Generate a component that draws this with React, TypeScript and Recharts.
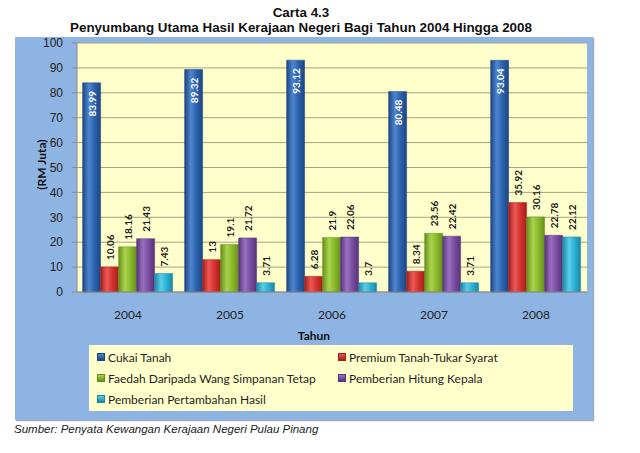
import React from 'react';
import {
  BarChart,
  Bar,
  XAxis,
  YAxis,
  CartesianGrid,
  LabelList,
} from 'recharts';

// Tahun (categories)
const years = ['2004', '2005', '2006', '2007', '2008'];

// RM Juta
const cukaiTanah = [83.99, 89.32, 93.12, 80.48, 93.04];
const premiumTanah = [10.06, 13, 6.28, 8.34, 35.92];
const faedahSimpanan = [18.16, 19.1, 21.9, 23.56, 30.16];
const hitungKepala = [21.43, 21.72, 22.06, 22.42, 22.78];
const pertambahanHasil = [7.43, 3.71, 3.7, 3.71, 22.12];

const yTicks = [0, 10, 20, 30, 40, 50, 60, 70, 80, 90, 100];
const boundaryTicks = [0, 1, 2, 3, 4, 5];

const SERIES = [
  { key: 'cukai', name: 'Cukai Tanah', values: cukaiTanah, color: '#2C63AE', light: '#4F86D0', dark: '#1C4683' },
  { key: 'premium', name: 'Premium Tanah-Tukar Syarat', values: premiumTanah, color: '#D5322F', light: '#EE5855', dark: '#A21F1D' },
  { key: 'faedah', name: 'Faedah Daripada Wang Simpanan Tetap', values: faedahSimpanan, color: '#8BBA2C', light: '#A9D24E', dark: '#66901A' },
  { key: 'hitung', name: 'Pemberian Hitung Kepala', values: hitungKepala, color: '#7A4EA2', light: '#9A70C2', dark: '#57337A' },
  { key: 'tambah', name: 'Pemberian Pertambahan Hasil', values: pertambahanHasil, color: '#2BB2D5', light: '#5CCCE8', dark: '#1A86A5' },
];

const data = years.map((year, i) => {
  const row: Record<string, string | number> = { year };
  SERIES.forEach((s) => {
    row[s.key] = s.values[i];
  });
  return row;
});

const LABEL_FONT = 'Lato, "Open Sans", sans-serif';

// value label above the bar, rotated
const outsideLabel = (props: any) => {
  const { x, y, width, value } = props;
  const cx = Number(x) + Number(width) / 2;
  const ty = Number(y) - 7;
  return (
    <text
      x={cx}
      y={ty}
      transform={`rotate(-90 ${cx} ${ty})`}
      textAnchor="start"
      dominantBaseline="central"
      fontSize={10}
      fontWeight={700}
      fontFamily={LABEL_FONT}
      fill="#1a1a1a"
    >
      {value}
    </text>
  );
};

// white value label inside the top of the tall blue bars
const insideLabel = (props: any) => {
  const { x, y, width, value } = props;
  const cx = Number(x) + Number(width) / 2;
  const ty = Number(y) + 8;
  return (
    <text
      x={cx}
      y={ty}
      transform={`rotate(-90 ${cx} ${ty})`}
      textAnchor="end"
      dominantBaseline="central"
      fontSize={10}
      fontWeight={700}
      fontFamily={LABEL_FONT}
      fill="#ffffff"
    >
      {value}
    </text>
  );
};

const LegendBox = () => (
  <div
    style={{
      position: 'absolute',
      left: 74,
      top: 308,
      width: 484,
      height: 66,
      background: '#FFFFCC',
      fontFamily: LABEL_FONT,
      fontSize: 12,
      color: '#1f1f1f',
    }}
  >
    {SERIES.map((s, i) => {
      const col = i % 2;
      const row = Math.floor(i / 2);
      return (
        <div
          key={s.key}
          style={{
            position: 'absolute',
            left: col === 0 ? 8 : 249,
            top: 12 + row * 21 - 8,
            height: 16,
            display: 'flex',
            alignItems: 'center',
            whiteSpace: 'nowrap',
          }}
        >
          <span
            style={{
              display: 'inline-block',
              width: 8,
              height: 8,
              marginRight: 3,
              background: `linear-gradient(to bottom, ${s.light}, ${s.dark})`,
              border: `1px solid ${s.dark}`,
              boxSizing: 'border-box',
            }}
          />
          {s.name}
        </div>
      );
    })}
  </div>
);

export default function App() {
  return (
    <div style={{ position: 'absolute', left: 0, top: 0, width: 640, height: 453, background: '#ffffff' }}>
      <div
        style={{
          position: 'absolute',
          left: 0,
          width: 602,
          top: 5,
          textAlign: 'center',
          fontFamily: '"Liberation Sans", Arial, sans-serif',
          fontWeight: 700,
          fontSize: 13.4,
          lineHeight: '15px',
          color: '#111',
        }}
      >
        <div>Carta 4.3</div>
        <div>Penyumbang Utama Hasil Kerajaan Negeri Bagi Tahun 2004 Hingga 2008</div>
      </div>

      <div
        style={{
          position: 'absolute',
          left: 15,
          top: 37,
          width: 578,
          height: 383,
          background: '#8EB4E3',
          boxShadow: '1px 1px 1px rgba(90,110,140,0.6)',
        }}
      >
        <BarChart
          width={578}
          height={383}
          data={data}
          margin={{ top: 6, right: 6, left: 22, bottom: 98 }}
          barCategoryGap="5.5%"
          barGap={0}
        >
          <defs>
            {SERIES.map((s) => (
              <linearGradient key={s.key} id={`grad-${s.key}`} x1="0" y1="0" x2="1" y2="0">
                <stop offset="0%" stopColor={s.dark} />
                <stop offset="35%" stopColor={s.light} />
                <stop offset="65%" stopColor={s.color} />
                <stop offset="100%" stopColor={s.dark} />
              </linearGradient>
            ))}
          </defs>
          <CartesianGrid vertical={false} stroke="#A8A283" fill="#FFFFCC" strokeWidth={1} />
          <XAxis
            xAxisId="edges"
            type="number"
            domain={[0, 5]}
            ticks={boundaryTicks}
            tick={false}
            tickLine={{ stroke: '#8c8c8c' }}
            tickSize={5}
            axisLine={false}
            height={0}
          />
          <XAxis
            dataKey="year"
            tickLine={false}
            axisLine={{ stroke: '#8c8c8c' }}
            tickMargin={12}
            height={30}
            tick={{ fontSize: 12, fill: '#222', fontFamily: LABEL_FONT }}
          />
          <YAxis
            domain={[0, 100]}
            ticks={yTicks}
            width={40}
            interval={0}
            tickSize={5}
            tickMargin={9}
            tickLine={{ stroke: '#8c8c8c' }}
            axisLine={{ stroke: '#8c8c8c' }}
            tick={{ fontSize: 12, fill: '#222', fontFamily: '"Liberation Sans", Arial, sans-serif' }}
          />
          {SERIES.map((s) => (
            <Bar
              key={s.key}
              dataKey={s.key}
              name={s.name}
              fill={`url(#grad-${s.key})`}
              stroke={s.dark}
              strokeWidth={0.5}
              isAnimationActive={false}
            >
              <LabelList dataKey={s.key} content={s.key === 'cukai' ? insideLabel : outsideLabel} />
            </Bar>
          ))}
        </BarChart>

        <LegendBox />

        <div
          style={{
            position: 'absolute',
            left: 16,
            top: 128,
            width: 20,
            height: 0,
          }}
        >
          <div
            style={{
              position: 'absolute',
              left: -40,
              top: -8,
              width: 100,
              textAlign: 'center',
              transform: 'rotate(-90deg)',
              fontFamily: LABEL_FONT,
              fontWeight: 700,
              fontSize: 12,
              color: '#111',
              whiteSpace: 'nowrap',
            }}
          >
            (RM Juta)
          </div>
        </div>

        <div
          style={{
            position: 'absolute',
            left: 249,
            width: 100,
            top: 291,
            textAlign: 'center',
            fontFamily: LABEL_FONT,
            fontWeight: 700,
            fontSize: 12,
            color: '#111',
          }}
        >
          Tahun
        </div>
      </div>

      <div
        style={{
          position: 'absolute',
          left: 14,
          top: 423,
          fontFamily: '"Liberation Sans", Arial, sans-serif',
          fontStyle: 'italic',
          fontSize: 11.5,
          color: '#222',
          whiteSpace: 'nowrap',
        }}
      >
        Sumber: Penyata Kewangan Kerajaan Negeri Pulau Pinang
      </div>
    </div>
  );
}
